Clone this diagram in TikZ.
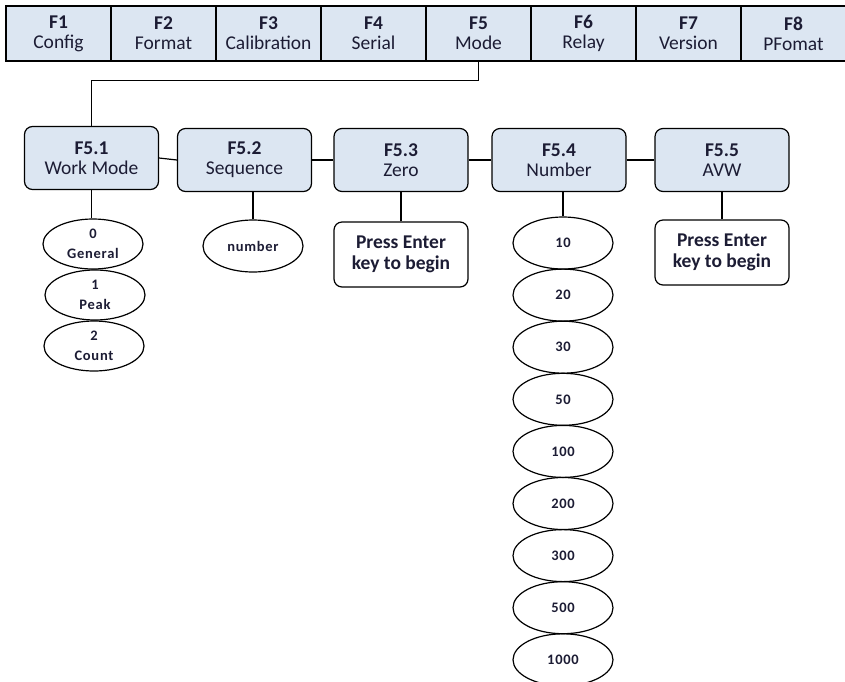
\documentclass[tikz,border=0pt]{standalone}
\usepackage{fontspec}
\setmainfont{Carlito}
\newfontfamily\optfont[LetterSpace=5]{Carlito}
\usetikzlibrary{shapes.geometric}
\definecolor{boxblue}{RGB}{220,230,242}
\definecolor{inktext}{RGB}{28,28,52}

\begin{document}
\begin{tikzpicture}[x=1pt, y=-1pt, line width=1.2pt,
    topbox/.style={draw, rectangle, fill=boxblue, minimum width=105pt, minimum height=55pt, inner sep=0pt, align=center, text=inktext, font=\fontsize{19.5}{20}\selectfont},
    modebox/.style={draw, rectangle, rounded corners=8pt, fill=boxblue, minimum width=134pt, minimum height=63pt, inner sep=0pt, align=center, text=inktext, font=\fontsize{19.5}{20}\selectfont},
    notebox/.style={draw, rectangle, rounded corners=8pt, fill=white, minimum width=134pt, minimum height=65pt, inner sep=0pt, align=center, text=inktext, font=\fontsize{19.5}{21}\selectfont\bfseries},
    optell/.style={draw, ellipse, minimum width=100pt, minimum height=50pt, inner sep=0pt, align=center, text=inktext, font=\optfont\fontsize{14.5}{20}\selectfont\bfseries}]
    \useasboundingbox (0,0) rectangle (845,681);

    % Function keys
    \foreach \i/\name in {1/Config, 2/Format, 3/Calibration, 4/Serial, 5/Mode, 6/Relay, 7/Version, 8/PFomat} {
        \node[topbox] (f\i) at (-46.5+\i*105, 33.5) {\textbf{F\i}\\\name};
    }

    % F5 sub menu
    \node[modebox] (m1) at (91.5, 158) {\textbf{F5.1}\\Work Mode};
    \node[modebox] (m2) at (244.5, 160) {\textbf{F5.2}\\Sequence};
    \node[modebox] (m3) at (401, 160) {\textbf{F5.3}\\Zero};
    \node[modebox] (m4) at (559, 160) {\textbf{F5.4}\\Number};
    \node[modebox] (m5) at (722, 160) {\textbf{F5.5}\\AVW};

    \draw (f5.south) -- ++(0,19) -| (m1.north);
    \draw (m1.east) -- (m2.west);
    \draw (m2.east) -- (m3.west);
    \draw (m3.east) -- (m4.west);
    \draw (m4.east) -- (m5.west);

    % Work mode options
    \node[optell] (w0) at (93, 244) {0\\General};
    \node[optell] (w1) at (95, 295) {1\\Peak};
    \node[optell] (w2) at (94, 346) {2\\Count};
    \draw (w0.north -| m1.south) -- (m1.south);

    % Sequence
    \node[optell, minimum height=52pt] (seq) at (253, 246) {number};
    \draw (seq.north) -- (seq.north |- m2.south);

    % Zero and AVW
    \node[notebox] (z3) at (401, 254.5) {Press Enter\\key to begin};
    \draw (z3.north) -- (m3.south);
    \node[notebox] (a5) at (722, 252.5) {Press Enter\\key to begin};
    \draw (a5.north) -- (m5.south);

    % Number options
    \foreach \j/\val in {0/10, 1/20, 2/30, 3/50, 4/100, 5/200, 6/300, 7/500, 8/1000} {
        \node[optell, minimum height=52pt] (n\val) at (563, 243+\j*52.1) {\val};
    }
    \draw (n10.north) -- (n10.north |- m4.south);
\end{tikzpicture}
\end{document}
